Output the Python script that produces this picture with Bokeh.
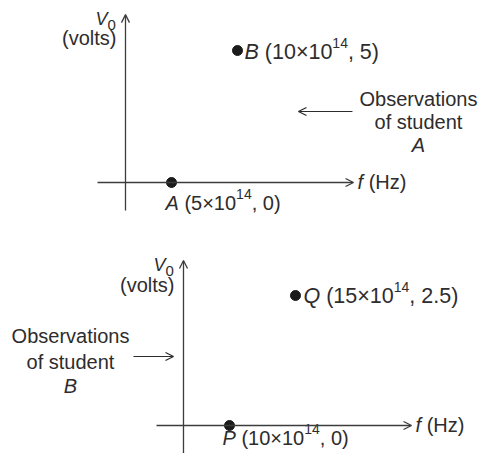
from bokeh.plotting import figure
from bokeh.layouts import column
from bokeh.models import Arrow, OpenHead, Range1d
from bokeh.core.properties import value
from bokeh.embed import file_html
from bokeh.resources import INLINE

# Photoelectric observations: frequency in units of 10^14 Hz, stopping potential in volts
student_a_names = ["A", "B"]
student_a_freq = [5, 10]
student_a_volts = [0, 5]

student_b_names = ["P", "Q"]
student_b_freq = [10, 15]
student_b_volts = [0, 2.5]

freq_exponent = "14"
x_symbol = "f"
x_unit = " (Hz)"
y_symbol = "V"
y_subscript = "0"
y_unit = "(volts)"
note_a = ["Observations", "of student", "A"]
note_b = ["Observations", "of student", "B"]

FONT = "Liberation Sans"
INK = "#2e2c2d"
AXIS = "#3c3c3c"
MAIN = 20
SMALL = 14

# Advance widths (per 1000 em) for the Liberation Sans glyphs used in the labels
ADV = {" ": 278, "(": 333, ")": 333, ",": 278, ".": 278, "\u00d7": 584,
       "A": 667, "B": 667, "P": 667, "Q": 778, "V": 667, "f": 278, "H": 722, "z": 500}
for d in "0123456789":
    ADV[d] = 556


def width(s, size):
    return sum(ADV.get(c, 556) for c in s) * size / 1000.0


def rich(p, x, y, pieces, dx=0, dy=0):
    """Draw a run of text pieces (text, italic, size, rise) starting at data (x, y)."""
    cur = dx
    for txt, italic, size, rise in pieces:
        lead = len(txt) - len(txt.lstrip(" "))
        cur += width(" " * lead, size)
        body = txt.lstrip(" ")
        p.text(x=[x], y=[y], text=[body], x_offset=cur, y_offset=dy - rise,
               text_font=value(FONT), text_font_size=f"{size}px",
               text_font_style="italic" if italic else "normal",
               text_color=INK, text_align="left", text_baseline="middle")
        cur += width(body, size)


def point_label(name, fx, v, size):
    return [(name, True, size, 0),
            (f" ({fx:g}\u00d710", False, size, 0),
            (freq_exponent, False, SMALL, 9),
            (f", {v:g})", False, size, 0)]


def panel(height, xr, yr):
    p = figure(width=481, height=height, x_range=Range1d(*xr), y_range=Range1d(*yr),
               x_axis_location=None, y_axis_location=None, toolbar_location=None,
               output_backend="svg", min_border=0)
    p.grid.visible = False
    p.outline_line_color = None
    p.background_fill_color = "white"
    p.border_fill_color = "white"
    return p


def axis_arrow(p, x0, y0, x1, y1):
    p.add_layout(Arrow(x_start=x0, y_start=y0, x_end=x1, y_end=y1,
                       line_color=AXIS, line_width=1.3,
                       end=OpenHead(size=8, line_color=AXIS, line_width=1.3)))


def draw_panel(p, names, freqs, volts, yax_x, yax_y0, yax_y1, xax_x0, xax_x1,
               label_dx, label_dy, label_size, volts_dy,
               note, note_x, note_ys, note_from, note_to, note_y):
    # coordinate axes with their symbols
    axis_arrow(p, yax_x, yax_y0, yax_x, yax_y1)
    axis_arrow(p, xax_x0, 0, xax_x1, 0)
    rich(p, xax_x1, 0, [(x_symbol, True, MAIN, 0), (x_unit, False, MAIN, 0)], dx=4, dy=-1)
    rich(p, yax_x, yax_y1, [(y_symbol, True, 18, 0), (y_subscript, False, 15, -6)], dx=-30, dy=4)
    p.text(x=[yax_x], y=[yax_y1], text=[y_unit], x_offset=-9, y_offset=volts_dy,
           text_font=value(FONT), text_font_size=f"{MAIN}px", text_color=INK,
           text_align="right", text_baseline="middle")

    # the two observations
    p.scatter(freqs, volts, size=10, color="#1b1b1b")
    for n, fx, v, ldx, ldy, ls in zip(names, freqs, volts, label_dx, label_dy, label_size):
        rich(p, fx, v, point_label(n, fx, v, ls), dx=ldx, dy=ldy)

    # note naming the student
    for i, (line, ny) in enumerate(zip(note, note_ys)):
        p.text(x=[note_x], y=[ny], text=[line], text_font=value(FONT),
               text_font_size=f"{MAIN}px", text_color=INK,
               text_font_style="italic" if i == len(note) - 1 else "normal",
               text_align="center", text_baseline="middle")
    p.add_layout(Arrow(x_start=note_from, y_start=note_y, x_end=note_to, y_end=note_y,
                       line_color=INK, line_width=1.2,
                       end=OpenHead(size=8, line_color=INK, line_width=1.2)))


top = panel(230, (-7.955, 28.485), (-1.818, 6.894))
draw_panel(top, student_a_names, student_a_freq, student_a_volts,
           yax_x=1.515, yax_y0=-1.06, yax_y1=6.36, xax_x0=-0.606, xax_x1=18.79,
           label_dx=[-6, 7], label_dy=[20, 1], label_size=[20, 21.5], volts_dy=23,
           note=note_a, note_x=23.71, note_ys=[3.163, 2.273, 1.402],
           note_from=18.71, note_to=14.62, note_y=2.69)

bottom = panel(223, (-7.348, 29.091), (-0.538, 3.75))
draw_panel(bottom, student_b_names, student_b_freq, student_b_volts,
           yax_x=6.515, yax_y0=-0.67, yax_y1=3.173, xax_x0=4.47, xax_x1=23.79,
           label_dx=[-7, 8], label_dy=[12, 0], label_size=[20, 21.5], volts_dy=24,
           note=note_b, note_x=-2.045, note_ys=[1.721, 1.231, 0.769],
           note_from=2.727, note_to=5.758, note_y=1.327)

layout = column(top, bottom, spacing=0)
open("out.html", "w").write(file_html(layout, INLINE))
